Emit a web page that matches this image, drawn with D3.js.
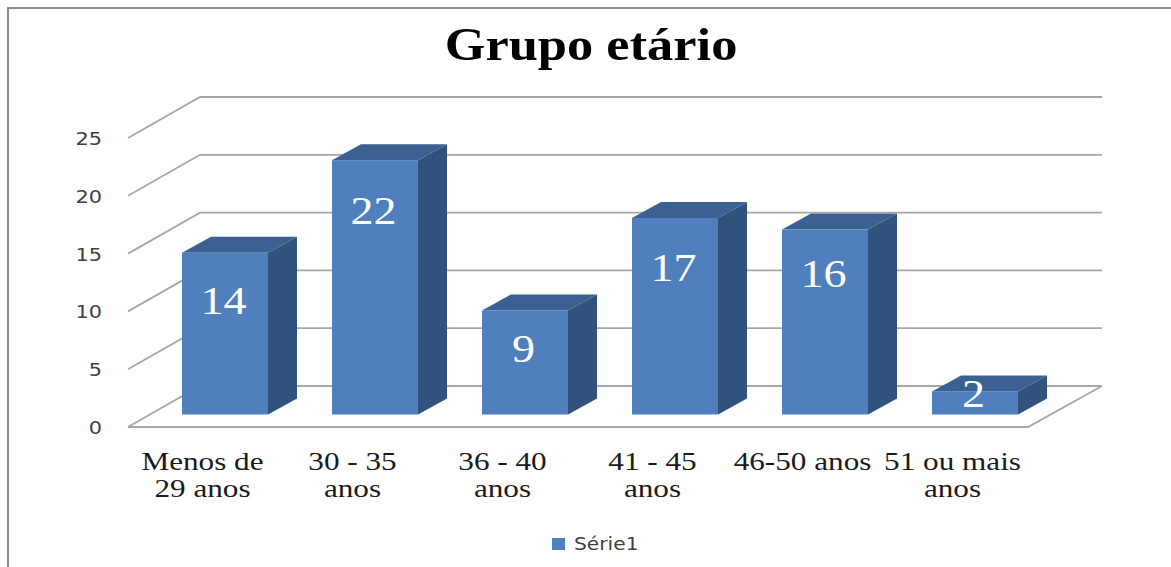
<!DOCTYPE html>
<html>
<head>
<meta charset="utf-8">
<script src="https://cdn.jsdelivr.net/npm/d3@7"></script>
<style>
  html, body { margin: 0; padding: 0; background: #fff; }
  svg { display: block; }
</style>
</head>
<body>
<svg id="chart" width="1171" height="567"></svg>
<script>
const categories = [["Menos de", "29 anos"], ["30 - 35", "anos"], ["36 - 40", "anos"], ["41 - 45", "anos"], ["46-50 anos"], ["51 ou mais", "anos"]];
const values = [14, 22, 9, 17, 16, 2];
const yTicks = [0, 5, 10, 15, 20, 25];
const seriesName = "Série1";
const chartTitle = "Grupo etário";

// Height of each value label's centre, as a share of its bar's height
const labelLift = [0.70, 0.80, 0.63, 0.745, 0.76, 0.87];

const svg = d3.select("#chart");

// Front edge of the floor and the oblique offsets of the 3D projection
const x = d3.scaleBand().domain(d3.range(values.length)).range([128, 1028]).padding(0);
const y = d3.scaleLinear().domain([0, 25]).range([427, 138]);
const wallDx = 72, wallDy = -41;   // left wall, front plane to back wall
const floorDx = 74;                // right floor edge, front to back
const barOffsetX = 54, barOffsetY = -12.5;
const depthDx = 29, depthDy = -16;
const barWidth = 86;
const serif = "'Liberation Serif', serif";
const sans = "'DejaVu Sans', sans-serif";
const blue = "#4f7fbd";

// Text is set wide: each label is stretched horizontally about its anchor
function wideText(parent, px, py, sx, anchor, family, size, fill, str) {
  return parent.append("text")
    .attr("transform", `translate(${px},${py}) scale(${sx},1)`)
    .attr("text-anchor", anchor)
    .attr("font-family", family).attr("font-size", size).attr("fill", fill)
    .text(str);
}

// Chart frame: only the top and left edges are visible
svg.append("path")
  .attr("d", "M8,567V8H1171")
  .attr("fill", "none").attr("stroke", "#8c8c8c").attr("stroke-width", 2);

// Gridlines wrapping from the left wall onto the back wall
const grid = svg.append("g").attr("fill", "none").attr("stroke", "#a6a6a6").attr("stroke-width", 1.8);
const [x0, x1] = x.range();
grid.selectAll("path").data(yTicks).join("path")
  .attr("d", d => `M${x0},${y(d)}l${wallDx},${wallDy}H${x1 + floorDx}`);
// Floor outline
grid.append("path").attr("d", `M${x0},${y(0)}H${x1}l${floorDx},${wallDy}`);

// Bars: side, top, then front face
const base = y(0) + barOffsetY;
const barH = d => y(0) - y(d);
const bx = (d, i) => x(i) + barOffsetX;
const bars = svg.append("g").selectAll("g").data(values).join("g");

bars.append("path").attr("fill", "#30527c")
  .attr("d", (d, i) => {
    const r = bx(d, i) + barWidth, t = base - barH(d);
    return `M${r},${base}V${t}l${depthDx},${depthDy}V${base + depthDy}Z`;
  });
bars.append("path").attr("fill", "#3b6192")
  .attr("d", (d, i) => {
    const l = bx(d, i), t = base - barH(d);
    return `M${l},${t}l${depthDx},${depthDy}h${barWidth}l${-depthDx},${-depthDy}Z`;
  });
bars.append("rect").attr("fill", blue)
  .attr("x", bx).attr("y", d => base - barH(d))
  .attr("width", barWidth).attr("height", barH);

// Value labels on the front faces
values.forEach((d, i) => {
  wideText(svg, bx(d, i) + barWidth / 2 - 1.5, base - barH(d) * labelLift[i] + 13,
    1.18, "middle", serif, 39, "#fff", d);
});

// Value axis labels
yTicks.forEach(d => {
  wideText(svg, 102, y(d) + 7, 1.16, "end", sans, 18, "#404040", d);
});

// Category labels, one text per line
categories.forEach((lines, i) => {
  lines.forEach((line, j) => {
    wideText(svg, x(i) + x.bandwidth() / 2 - 0.5, 470 + j * 27,
      1.2, "middle", serif, 26, "#1a1a1a", line);
  });
});

// Title
wideText(svg, 591, 60, 1.14, "middle", serif, 46, "#000", chartTitle).attr("font-weight", "bold");

// Legend
svg.append("rect").attr("x", 552).attr("y", 538).attr("width", 13).attr("height", 12).attr("fill", blue);
wideText(svg, 574, 550, 1.19, "start", sans, 17, "#404040", seriesName);
</script>
</body>
</html>
